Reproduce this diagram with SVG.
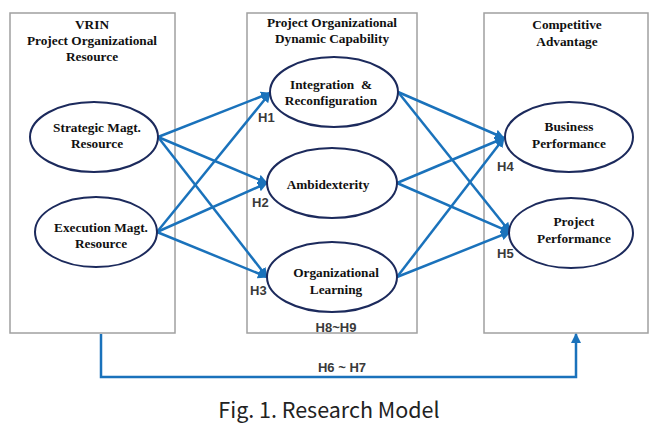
<svg xmlns="http://www.w3.org/2000/svg" width="668" height="427" viewBox="0 0 668 427">
<defs>
<marker id="ah" viewBox="0 0 10 10" refX="9" refY="5" markerWidth="10" markerHeight="10" markerUnits="userSpaceOnUse" orient="auto">
<path d="M0,0 L10,5 L0,10 Z" fill="#1a72bb"/>
</marker>
<style>
.box{fill:#fff;stroke:#a0a0a0;stroke-width:1.5}
.el{fill:#fff;stroke:#1c2a5c;stroke-width:2}
.t{font-family:"Liberation Serif",serif;font-weight:bold;font-size:13.3px;fill:#111;text-anchor:middle}
.h{font-family:"Liberation Sans",sans-serif;font-weight:bold;font-size:13px;fill:#3a3a3a}
.c{stroke:#1a72bb;stroke-width:2.5;fill:none}
</style>
</defs>
<rect width="668" height="427" fill="#fff"/>
<g id="boxes">
<g id="box-vrin"><rect class="box" x="10" y="13" width="165" height="320"/>
<text class="t" x="92" y="29">VRIN</text>
<text class="t" x="92" y="45">Project Organizational</text>
<text class="t" x="92" y="61">Resource</text></g>
<g id="box-dyn"><rect class="box" x="247" y="13" width="170" height="320"/>
<text class="t" x="332" y="27">Project Organizational</text>
<text class="t" x="332" y="43">Dynamic Capability</text></g>
<g id="box-comp"><rect class="box" x="484" y="13" width="164" height="320"/>
<text class="t" x="567" y="29">Competitive</text>
<text class="t" x="567" y="46">Advantage</text></g>
</g>
<g id="connectors">
<line class="c" x1="158" y1="137" x2="270" y2="93" marker-end="url(#ah)"/>
<line class="c" x1="158" y1="137" x2="267" y2="183" marker-end="url(#ah)"/>
<line class="c" x1="158" y1="137" x2="267" y2="277" marker-end="url(#ah)"/>
<line class="c" x1="157" y1="232" x2="270" y2="93" marker-end="url(#ah)"/>
<line class="c" x1="157" y1="232" x2="267" y2="183" marker-end="url(#ah)"/>
<line class="c" x1="157" y1="232" x2="267" y2="277" marker-end="url(#ah)"/>
<line class="c" x1="398" y1="92" x2="504" y2="138" marker-end="url(#ah)"/>
<line class="c" x1="398" y1="92" x2="510" y2="232" marker-end="url(#ah)"/>
<line class="c" x1="397" y1="183" x2="504" y2="138" marker-end="url(#ah)"/>
<line class="c" x1="397" y1="183" x2="510" y2="232" marker-end="url(#ah)"/>
<line class="c" x1="397" y1="277" x2="504" y2="138" marker-end="url(#ah)"/>
<line class="c" x1="397" y1="277" x2="510" y2="232" marker-end="url(#ah)"/>
<path class="c" d="M101,334 L101,377 L576,377 L576,334" marker-end="url(#ah)"/>
</g>
<g id="n-strategic"><ellipse class="el" cx="94" cy="137" rx="64" ry="35"/>
<text class="t" x="97" y="132">Strategic Magt.</text><text class="t" x="97" y="148">Resource</text></g>
<g id="n-execution"><ellipse class="el" cx="96" cy="232" rx="61" ry="35"/>
<text class="t" x="101" y="232">Execution Magt.</text><text class="t" x="101" y="248">Resource</text></g>
<g id="n-integration"><ellipse class="el" cx="334" cy="92" rx="64" ry="35"/>
<text class="t" x="331" y="89" xml:space="preserve">Integration  &amp;</text><text class="t" x="331" y="105">Reconfiguration</text></g>
<g id="n-ambidexterity"><ellipse class="el" cx="332" cy="183" rx="65" ry="35"/>
<text class="t" x="328" y="189">Ambidexterity</text></g>
<g id="n-learning"><ellipse class="el" cx="332" cy="277" rx="65" ry="35"/>
<text class="t" x="336" y="277">Organizational</text><text class="t" x="336" y="294">Learning</text></g>
<g id="n-business"><ellipse class="el" cx="569" cy="137" rx="64" ry="35"/>
<text class="t" x="569" y="131">Business</text><text class="t" x="569" y="148">Performance</text></g>
<g id="n-project"><ellipse class="el" cx="571" cy="233" rx="62" ry="35"/>
<text class="t" x="574" y="226">Project</text><text class="t" x="574" y="243">Performance</text></g>
<g id="labels">
<text class="h" x="258" y="122">H1</text>
<text class="h" x="252" y="207">H2</text>
<text class="h" x="250" y="295">H3</text>
<text class="h" x="336" y="332" text-anchor="middle">H8~H9</text>
<text class="h" x="497" y="171">H4</text>
<text class="h" x="497" y="258">H5</text>
<text class="h" x="342" y="372" text-anchor="middle">H6 ~ H7</text>
<text x="329" y="418" text-anchor="middle" font-family="'Noto Sans CJK KR','Noto Sans',sans-serif" font-size="21.5" fill="#222">Fig. 1. Research Model</text>
</g>
</svg>
